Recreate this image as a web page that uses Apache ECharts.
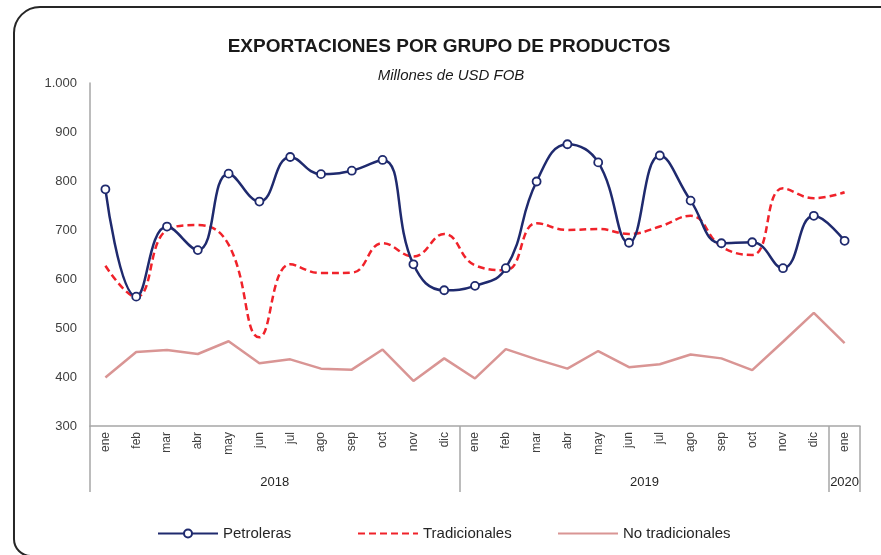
<!DOCTYPE html>
<html>
<head>
<meta charset="utf-8">
<script src="https://cdn.jsdelivr.net/npm/echarts@6/dist/echarts.min.js"></script>
<style>
html,body{margin:0;padding:0;background:#fff;}
#chart{width:881px;height:555px;}
</style>
</head>
<body>
<div id="chart"></div>
<script>
const months = ['ene','feb','mar','abr','may','jun','jul','ago','sep','oct','nov','dic',
                'ene','feb','mar','abr','may','jun','jul','ago','sep','oct','nov','dic','ene'];
const monthYears = [2018,2018,2018,2018,2018,2018,2018,2018,2018,2018,2018,2018,
                    2019,2019,2019,2019,2019,2019,2019,2019,2019,2019,2019,2019,2020];
const yearLabels = ['2018','2019','2020'];
const petroleras = [783, 564, 707, 659, 815, 758, 849, 814, 821, 843, 630, 577,
                    586, 622, 799, 875, 838, 674, 852, 760, 673, 675, 622, 729, 678];
const tradicionales = [627, 563, 700, 710, 670, 481, 630, 612, 613, 673, 646, 692,
                       628, 618, 714, 700, 702, 692, 707, 729, 666, 649, 785, 765, 777];
const noTradicionales = [399, 451, 455, 447, 473, 428, 436, 417, 415, 456, 392, 438,
                         397, 457, 436, 417, 453, 420, 426, 446, 438, 414, 472, 531, 469];
const yTicks = [300, 400, 500, 600, 700, 800, 900, 1000];

const categories = months.map((m, i) => m + '-' + monthYears[i]);
const yearStart = {};
const yearEnd = {};
monthYears.forEach((y, i) => {
  if (yearStart[y] === undefined) yearStart[y] = i;
  yearEnd[y] = i + 1;
});
const yearCenters = {};
yearLabels.forEach(y => { yearCenters[(yearStart[y] + yearEnd[y]) / 2] = y; });

const FONT = 'Liberation Sans';
const chart = echarts.init(document.getElementById('chart'));
const nCat = categories.length;
const legendText = { fontFamily: FONT, fontSize: 15, color: '#262626' };

chart.setOption({
  animation: false,
  backgroundColor: '#ffffff',
  textStyle: { fontFamily: FONT },
  title: [
    { text: 'EXPORTACIONES POR GRUPO DE PRODUCTOS', left: 444, top: 32, textAlign: 'center',
      textStyle: { fontFamily: FONT, fontSize: 19, fontWeight: 'bold', color: '#1a1a1a' } },
    { text: 'Millones de USD FOB', left: 446, top: 63, textAlign: 'center',
      textStyle: { fontFamily: FONT, fontSize: 15, fontStyle: 'italic', fontWeight: 'normal', color: '#1a1a1a' } }
  ],
  graphic: [{
    type: 'rect', silent: true, z: 100,
    shape: { x: 14, y: 7, width: 900, height: 549, r: [26, 0, 0, 17] },
    style: { fill: 'none', stroke: '#262626', lineWidth: 2 }
  }],
  grid: { left: 90, right: 21, top: 83, bottom: 129, containLabel: false },
  legend: [
    { data: ['Petroleras'], left: 152, top: 521, itemWidth: 60, itemHeight: 10, itemGap: 8,
      textStyle: legendText },
    { data: [{ name: 'Tradicionales', itemStyle: { opacity: 0 } }], left: 352, top: 521,
      itemWidth: 60, itemHeight: 10, itemGap: 8, textStyle: legendText },
    { data: [{ name: 'No tradicionales', itemStyle: { opacity: 0 } }], left: 552, top: 521,
      itemWidth: 60, itemHeight: 10, itemGap: 8, textStyle: legendText }
  ],
  xAxis: [
    {
      type: 'category', data: categories, boundaryGap: true, position: 'bottom',
      axisLine: { show: true, lineStyle: { color: '#a6a6a6', width: 1.5 } },
      axisTick: { show: false },
      axisLabel: { rotate: 90, interval: 0, margin: 6, fontSize: 12, color: '#404040',
                   fontFamily: FONT, formatter: v => v.split('-')[0] },
      splitLine: { show: false }
    },
    {
      type: 'value', min: 0, max: nCat, interval: 12, position: 'bottom',
      axisLine: { show: false },
      axisTick: { show: true, length: 66, lineStyle: { color: '#a6a6a6', width: 1.5 } },
      axisLabel: { show: false },
      splitLine: { show: false }
    },
    {
      type: 'value', min: 0, max: nCat, interval: 0.5, position: 'bottom', offset: 42,
      axisLine: { show: false }, axisTick: { show: false }, splitLine: { show: false },
      axisLabel: { show: true, fontSize: 13, color: '#262626', fontFamily: FONT,
                   showMinLabel: true, showMaxLabel: true,
                   formatter: v => yearCenters[v] || '' }
    }
  ],
  yAxis: {
    type: 'value', min: yTicks[0], max: yTicks[yTicks.length - 1], interval: 100,
    axisLine: { show: true, lineStyle: { color: '#a6a6a6', width: 1.5 } },
    axisTick: { show: false },
    splitLine: { show: false },
    axisLabel: { margin: 13, fontSize: 13, color: '#404040', fontFamily: FONT,
                 formatter: v => v >= 1000 ? Math.floor(v / 1000) + '.' + String(v % 1000).padStart(3, '0') : String(v) }
  },
  series: [
    { name: 'Petroleras', type: 'line', xAxisIndex: 0, data: petroleras, smooth: 0.45,
      symbol: 'circle', symbolSize: 8, showSymbol: true, z: 5,
      lineStyle: { color: '#1f2a6e', width: 2.5 },
      itemStyle: { color: '#ffffff', borderColor: '#1f2a6e', borderWidth: 1.8 } },
    { name: 'Tradicionales', type: 'line', xAxisIndex: 0, data: tradicionales, smooth: 0.45,
      symbol: 'none', z: 4,
      lineStyle: { color: '#f0222a', width: 2.5, type: [7, 4] },
      itemStyle: { color: '#f0222a' } },
    { name: 'No tradicionales', type: 'line', xAxisIndex: 0, data: noTradicionales, smooth: false,
      symbol: 'none', z: 3,
      lineStyle: { color: '#d99594', width: 2.5 },
      itemStyle: { color: '#d99594' } }
  ]
});
</script>
</body>
</html>
